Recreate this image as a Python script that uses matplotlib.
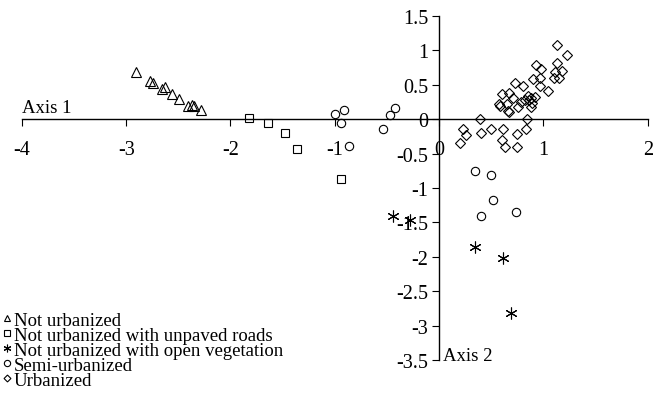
import matplotlib
matplotlib.use('Agg')
import matplotlib.pyplot as plt
from matplotlib.lines import Line2D
import numpy as np

plt.rcParams['font.family'] = ['Liberation Serif', 'DejaVu Serif']
plt.rcParams['axes.unicode_minus'] = False

# scores on the two axes, per land-use class
not_urb_x = [-2.91, -2.77, -2.74, -2.66, -2.63, -2.56, -2.49, -2.41, -2.37, -2.35, -2.28]
not_urb_y = [0.68, 0.55, 0.53, 0.43, 0.46, 0.36, 0.29, 0.19, 0.20, 0.19, 0.13]

roads_x = [-1.82, -1.64, -1.48, -1.36, -0.94]
roads_y = [0.01, -0.05, -0.20, -0.44, -0.87]

veg_x = [-0.44, -0.28, 0.34, 0.61, 0.69]
veg_y = [-1.40, -1.47, -1.85, -2.02, -2.81]

semi_x = [-1.00, -0.91, -0.94, -0.86, -0.54, -0.47, -0.42, 0.34, 0.50, 0.52, 0.40, 0.74]
semi_y = [0.07, 0.13, -0.06, -0.39, -0.15, 0.06, 0.16, -0.76, -0.81, -1.18, -1.40, -1.35]

urb_x = [1.13, 1.23, 0.93, 0.98, 1.13, 1.11, 1.18, 1.10, 1.15, 0.90, 0.97, 0.97,
         1.04, 0.73, 0.80, 0.60, 0.67, 0.71, 0.57, 0.58, 0.65, 0.66, 0.67, 0.76,
         0.78, 0.82, 0.85, 0.86, 0.88, 0.92, 0.88, 0.89, 0.39, 0.84, 0.23, 0.26,
         0.20, 0.40, 0.50, 0.61, 0.60, 0.63, 0.75, 0.83, 0.75]
urb_y = [1.08, 0.93, 0.78, 0.73, 0.81, 0.68, 0.70, 0.59, 0.60, 0.58, 0.59, 0.48,
         0.40, 0.52, 0.48, 0.36, 0.38, 0.31, 0.22, 0.19, 0.22, 0.11, 0.10, 0.18,
         0.25, 0.28, 0.33, 0.28, 0.31, 0.32, 0.18, 0.23, 0.00, 0.00, -0.15, -0.23,
         -0.35, -0.20, -0.14, -0.14, -0.30, -0.40, -0.22, -0.15, -0.41]

labels = ['Not urbanized', 'Not urbanized with unpaved roads',
          'Not urbanized with open vegetation', 'Semi-urbanized', 'Urbanized']
xticks = [-4, -3, -2, -1, 0, 1, 2]
yticks = [-3.5, -3, -2.5, -2, -1.5, -1, -0.5, 0, 0.5, 1, 1.5]

fig = plt.figure(figsize=(6.61, 4.06), dpi=100)
ax = fig.add_axes([0.033, 0.110, 0.947, 0.849])

mk = dict(linestyle='none', color='black', markerfacecolor='none', markeredgewidth=0.8)
ax.plot(not_urb_x, not_urb_y, marker='^', markersize=6.5, **mk)
ax.plot(roads_x, roads_y, marker='s', markersize=5.5, **mk)
ax.plot(veg_x, veg_y, marker=(6, 2, 0), markersize=8.5, **mk)
ax.plot(semi_x, semi_y, marker='o', markersize=6, **mk)
ax.plot(urb_x, urb_y, marker='D', markersize=4.8, **mk)

ax.set_xlim(-4, 2)
ax.set_ylim(-3.5, 1.5)
for s in ['top', 'right']:
    ax.spines[s].set_visible(False)
ax.spines['left'].set_position(('data', 0))
ax.spines['bottom'].set_position(('data', 0))
ax.spines['left'].set_linewidth(1.0)
ax.spines['bottom'].set_linewidth(1.0)
ax.set_xticks(xticks)
ax.set_yticks(yticks)
ax.set_xticklabels(['%g' % v for v in xticks])
ax.set_yticklabels(['%g' % v for v in yticks])
ax.tick_params(axis='x', direction='out', length=5, pad=10, labelsize=14.5)
ax.tick_params(axis='y', direction='out', length=5, pad=3, labelsize=14.5)

ax.text(-4, 0.04, 'Axis 1', fontsize=13.5, ha='left', va='bottom')
ax.text(0.04, -3.43, 'Axis 2', fontsize=13.5, ha='left', va='center')

handles = [
    Line2D([], [], marker='^', markersize=4.5, **mk),
    Line2D([], [], marker='s', markersize=4, **mk),
    Line2D([], [], marker=(6, 2, 0), markersize=5.5, **mk),
    Line2D([], [], marker='o', markersize=4.5, **mk),
    Line2D([], [], marker='D', markersize=3.5, **mk),
]
fig.legend(handles, labels, loc='lower left', bbox_to_anchor=(0.0, 0.036),
           frameon=False, fontsize=13.5, handlelength=0.5, handletextpad=0.15,
           labelspacing=-0.12, borderaxespad=0.0, borderpad=0.1)

fig.savefig('out.png', dpi=100)
